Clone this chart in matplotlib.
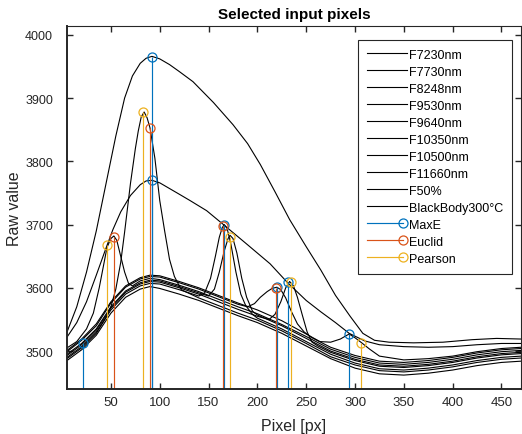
import matplotlib
matplotlib.use("Agg")
import matplotlib.pyplot as plt
from matplotlib.legend_handler import HandlerLine2D
from matplotlib.lines import Line2D

plt.rcParams['font.family'] = ['Liberation Sans', 'DejaVu Sans']

# ---------------- data ----------------
series_labels = ["F7230nm", "F7730nm", "F8248nm", "F9530nm", "F9640nm",
                 "F10350nm", "F10500nm", "F11660nm", "F50%", "BlackBody300°C"]

# narrow peak near px 84
x_f7230 = [5, 20, 35, 45, 50, 55, 60, 64, 70, 75, 78, 81, 84, 87, 90, 95, 100, 105, 110, 115, 122,
           140, 160, 180, 200, 225, 250, 275, 300, 325, 350, 375, 400, 425, 450, 470]
y_f7230 = [3488, 3505, 3528, 3553, 3570, 3598, 3640, 3688, 3765, 3820, 3848, 3870, 3878, 3869, 3853, 3805, 3738, 3690, 3645, 3618, 3597,
           3584, 3572, 3560, 3549, 3532, 3512, 3491, 3478, 3469, 3467, 3470, 3475, 3482, 3487, 3489]

# narrow peak near px 53
x_f7730 = [5, 15, 25, 32, 38, 43, 46, 50, 53, 56, 60, 64, 68, 72, 80, 90, 100, 120, 140, 160, 180, 200,
           225, 250, 275, 300, 325, 350, 375, 400, 425, 450, 470]
y_f7730 = [3505, 3515, 3535, 3560, 3600, 3640, 3664, 3678, 3682, 3675, 3650, 3625, 3607, 3603, 3611, 3615, 3613, 3604, 3594, 3582, 3570, 3559,
           3542, 3523, 3503, 3490, 3481, 3479, 3482, 3487, 3494, 3499, 3501]

# narrow peak near px 166
x_f8248 = [5, 20, 35, 50, 65, 80, 90, 100, 120, 140, 146, 152, 157, 161, 164, 166, 169, 173, 178, 183, 188, 195,
           200, 225, 250, 275, 300, 325, 350, 375, 400, 425, 450, 470]
y_f8248 = [3490, 3507, 3530, 3565, 3590, 3603, 3607, 3606, 3597, 3587, 3592, 3615, 3650, 3680, 3695, 3700, 3694, 3668, 3625, 3590, 3572, 3558,
           3552, 3535, 3515, 3495, 3481, 3472, 3470, 3473, 3478, 3485, 3490, 3492]

# narrow peak near px 172
x_f9530 = [5, 20, 35, 50, 65, 80, 90, 100, 120, 140, 150, 156, 161, 166, 170, 172, 175, 179, 184, 189, 195,
           200, 225, 250, 275, 300, 325, 350, 375, 400, 425, 450, 470]
y_f9530 = [3495, 3512, 3535, 3570, 3595, 3608, 3612, 3611, 3602, 3592, 3587, 3598, 3625, 3658, 3678, 3683, 3678, 3655, 3615, 3585, 3563,
           3557, 3540, 3520, 3500, 3487, 3478, 3476, 3479, 3484, 3491, 3496, 3498]

# narrow peak near px 220
x_f9640 = [5, 20, 35, 50, 65, 80, 90, 100, 120, 140, 160, 180, 190, 197, 203, 210, 215, 220, 224, 229, 235, 241, 248, 256,
           275, 300, 325, 350, 375, 400, 425, 450, 470]
y_f9640 = [3499, 3517, 3540, 3576, 3601, 3614, 3618, 3617, 3608, 3598, 3586, 3574, 3570, 3575, 3585, 3594, 3599, 3601, 3597, 3584, 3562, 3543, 3530, 3521,
           3506, 3493, 3484, 3482, 3485, 3490, 3497, 3502, 3504]

# narrow peak near px 233
x_f10350 = [5, 20, 35, 50, 65, 80, 90, 100, 120, 140, 160, 180, 200, 212, 218, 224, 229, 233, 237, 241, 246, 251, 256, 262,
            275, 300, 325, 350, 375, 400, 425, 450, 470]
y_f10350 = [3493, 3510, 3533, 3568, 3593, 3606, 3610, 3609, 3600, 3590, 3578, 3566, 3555, 3550, 3558, 3578, 3600, 3610, 3603, 3585, 3557, 3530, 3514, 3508,
            3498, 3485, 3476, 3474, 3477, 3482, 3489, 3494, 3496]

# small bump near px 294
x_f10500 = [5, 20, 35, 50, 65, 80, 90, 100, 120, 140, 160, 180, 200, 225, 250, 264, 275, 285, 294, 300, 306, 315, 325,
            350, 375, 400, 425, 450, 470]
y_f10500 = [3501, 3519, 3543, 3578, 3603, 3616, 3620, 3619, 3610, 3600, 3588, 3576, 3565, 3548, 3527, 3515, 3514, 3519, 3527, 3521, 3514, 3503, 3492,
            3486, 3488, 3492, 3499, 3504, 3506]

# plain curve
x_f11660 = [5, 20, 35, 50, 65, 80, 90, 100, 120, 140, 160, 180, 200, 225, 250, 275, 300, 325, 350, 375, 400, 425, 450, 470]
y_f11660 = [3485, 3502, 3525, 3560, 3585, 3598, 3602, 3599, 3590, 3580, 3568, 3556, 3545, 3528, 3508, 3488, 3473, 3464, 3462, 3465, 3470, 3477, 3482, 3484]

# broad peak (3770)
x_f50 = [5, 15, 25, 35, 45, 52, 60, 70, 80, 86, 92, 100, 110, 120, 131, 148, 166, 190, 213, 231, 250, 265, 280, 294,
         310, 325, 350, 375, 400, 425, 450, 470]
y_f50 = [3522, 3545, 3578, 3620, 3663, 3692, 3720, 3746, 3763, 3769, 3770, 3766, 3757, 3748, 3738, 3722, 3699, 3668, 3638, 3608, 3580, 3562, 3545, 3528,
         3516, 3510, 3507, 3506, 3507, 3510, 3512, 3512]

# black body: large broad peak (3965)
x_bb = [5, 15, 25, 35, 45, 55, 64, 72, 80, 86, 92, 100, 110, 120, 134, 155, 175, 190, 203, 218, 233, 250, 265, 280, 295,
        308, 320, 335, 360, 390, 420, 445, 470]
y_bb = [3530, 3570, 3625, 3690, 3765, 3840, 3900, 3935, 3955, 3963, 3966, 3962, 3953, 3942, 3926, 3893, 3858, 3828, 3795, 3752, 3708, 3665, 3628, 3588, 3555,
        3528, 3517, 3514, 3513, 3514, 3518, 3520, 3519]

series_x = [x_f7230, x_f7730, x_f8248, x_f9530, x_f9640, x_f10350, x_f10500, x_f11660, x_f50, x_bb]
series_y = [y_f7230, y_f7730, y_f8248, y_f9530, y_f9640, y_f10350, y_f10500, y_f11660, y_f50, y_bb]

# selected pixels
maxe_x = [21, 92, 92, 166, 220, 231, 294]
maxe_y = [3512, 3965, 3770, 3700, 3601, 3609, 3527]
euclid_x = [53, 90, 165, 219]
euclid_y = [3681, 3853, 3698, 3600]
pearson_x = [46, 83, 172, 234, 306]
pearson_y = [3667, 3878, 3681, 3609, 3513]

stem_labels = ["MaxE", "Euclid", "Pearson"]
stem_colors = ["#0072BD", "#D95319", "#EDB120"]

xticks = [50, 100, 150, 200, 250, 300, 350, 400, 450]
yticks = [3500, 3600, 3700, 3800, 3900, 4000]
XLIM = (5, 470)
YLIM = (3440, 4014)

# ---------------- figure ----------------
W, H = 522, 435
fig = plt.figure(figsize=(W / 100, H / 100), dpi=100)
ax_l, ax_r, ax_t, ax_b = 67, 521, 27, 390
ax = fig.add_axes([ax_l / W, 1 - ax_b / H, (ax_r - ax_l) / W, (ax_b - ax_t) / H])

dark = "#262626"
handles = []
for lab, xs, ys in zip(series_labels, series_x, series_y):
    h, = ax.plot(xs, ys, color="black", lw=0.8, label=lab)
    handles.append(h)

for lab, col, xs, ys in zip(stem_labels, stem_colors,
                            [maxe_x, euclid_x, pearson_x], [maxe_y, euclid_y, pearson_y]):
    ax.vlines(xs, YLIM[0], ys, color=col, lw=0.85)
    ax.plot(xs, ys, linestyle="none", marker="o", mfc="none", mec=col, ms=6.5, mew=0.9)
    handles.append(Line2D([], [], color=col, lw=0.85, marker="o", mfc="none", mec=col,
                          ms=6.5, mew=0.9, label=lab))

ax.set_xlim(*XLIM)
ax.set_ylim(*YLIM)
ax.set_xticks(xticks)
ax.set_yticks(yticks)
ax.tick_params(direction="in", top=True, right=True, length=4, width=1.0,
               colors=dark, labelsize=9.5)
ax.tick_params(axis="x", pad=5)
ax.tick_params(axis="y", pad=10, labelsize=9)
for s in ["left", "bottom"]:
    ax.spines[s].set_linewidth(1.4)
    ax.spines[s].set_color(dark)
for s in ["top", "right"]:
    ax.spines[s].set_linewidth(0.8)
    ax.spines[s].set_color(dark)

ax.set_xlabel("Pixel [px]", fontsize=11.5, color=dark)
ax.set_ylabel("Raw value", fontsize=11.5, color=dark)
ax.xaxis.set_label_coords(0.5, (ax_b - 419) / (ax_b - ax_t))
ax.yaxis.set_label_coords((22 - ax_l) / (ax_r - ax_l), 0.5)
ax.set_title("Selected input pixels", fontsize=11, fontweight="bold", pad=6)


class StemHandler(HandlerLine2D):
    def create_artists(self, legend, orig_handle, xdescent, ydescent, width, height, fontsize, trans):
        arts = super().create_artists(legend, orig_handle, xdescent, ydescent,
                                      width, height, fontsize, trans)
        ln = arts[0]
        xd = list(ln.get_xdata())
        xd[-1] = xd[-1] - 0.25 * fontsize
        ln.set_xdata(xd)
        ln.set_markevery([len(xd) - 1])
        return arts


hm = {h: StemHandler() for h in handles[len(series_labels):]}
leg = ax.legend(handles=handles, loc="upper right",
                bbox_to_anchor=((512 - ax_l) / (ax_r - ax_l), 1 - (41 - ax_t) / (ax_b - ax_t)),
                borderaxespad=0, fontsize=9, handlelength=3.2, handletextpad=0.2,
                labelspacing=0.4, borderpad=0.7, fancybox=False, framealpha=1,
                edgecolor=dark, handler_map=hm)
leg.get_frame().set_linewidth(0.8)

fig.savefig("out.png", dpi=100)
